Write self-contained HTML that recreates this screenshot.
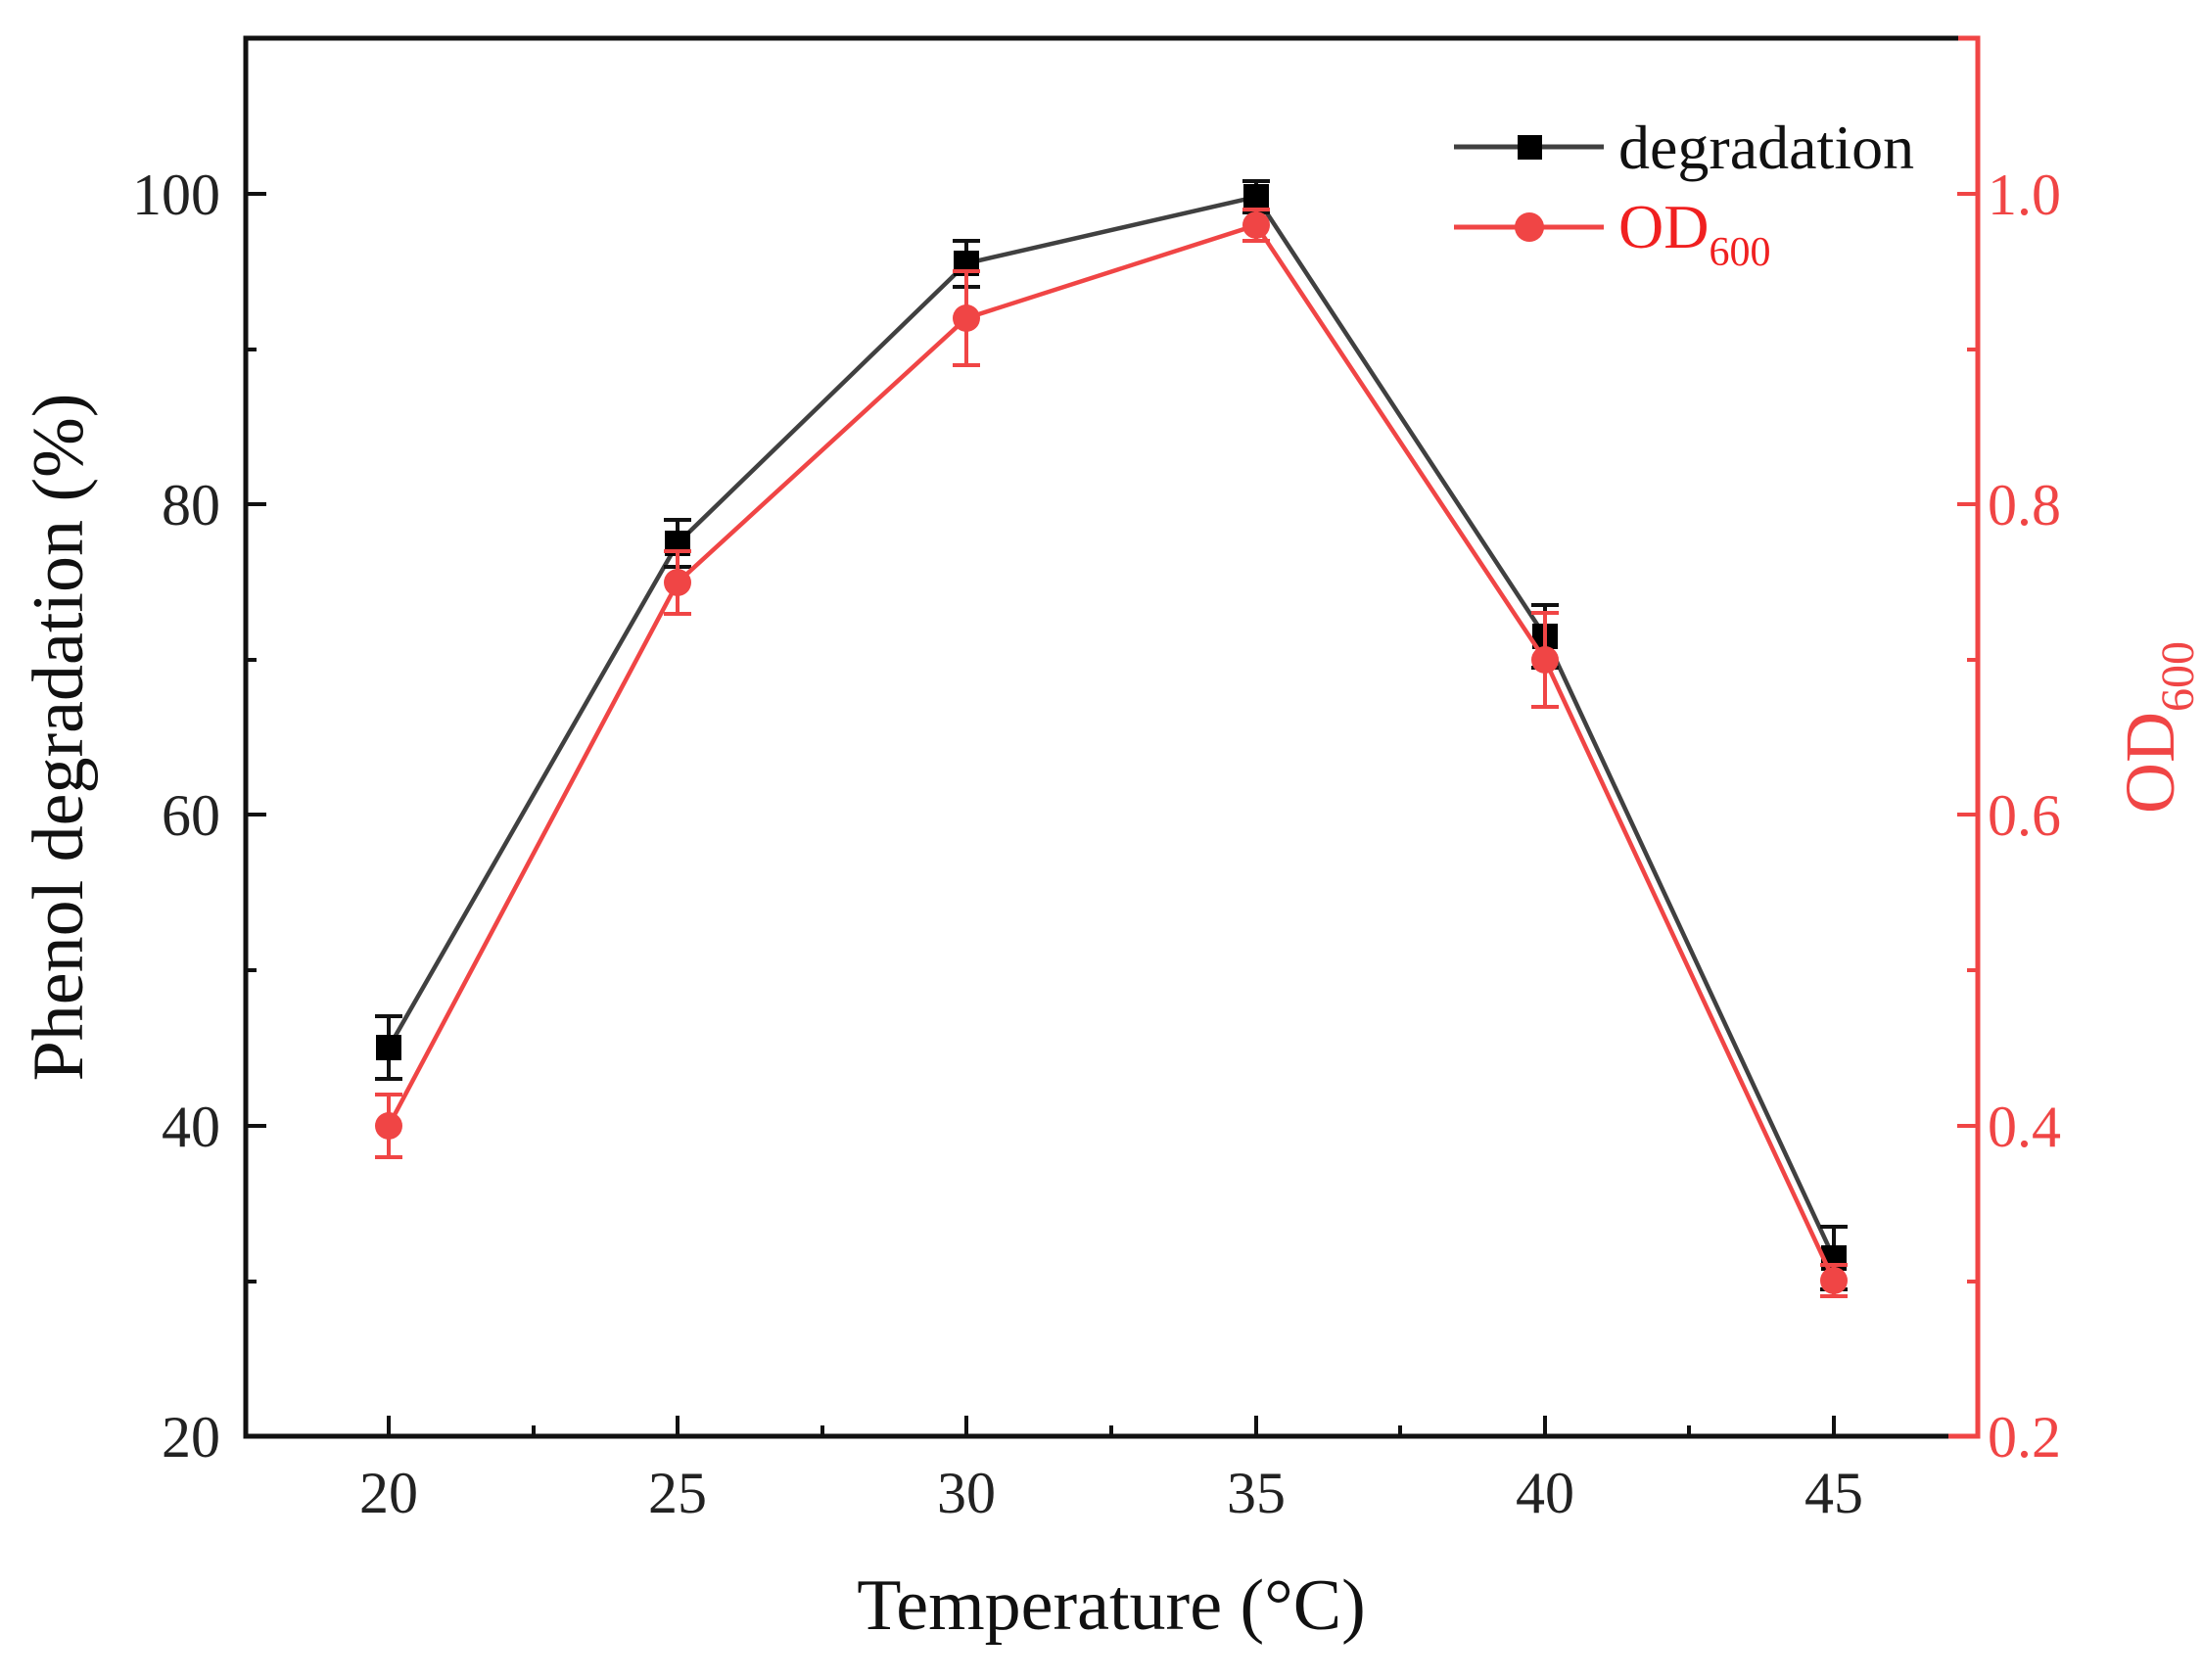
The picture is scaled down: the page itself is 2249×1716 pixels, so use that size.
<!DOCTYPE html>
<html><head><meta charset="utf-8"><style>
html,body{margin:0;padding:0;background:#fff;}
svg{display:block;}
text{font-family:"Liberation Serif",serif;}
</style></head><body>
<svg width="2249" height="1716" viewBox="0 0 2249 1716" xmlns="http://www.w3.org/2000/svg">
<rect width="2249" height="1716" fill="#fff"/>
<g stroke="#111" stroke-width="4">
<line x1="251" y1="1467" x2="272" y2="1467"/>
<line x1="251" y1="1150" x2="272" y2="1150"/>
<line x1="251" y1="832" x2="272" y2="832"/>
<line x1="251" y1="515" x2="272" y2="515"/>
<line x1="251" y1="198" x2="272" y2="198"/>
<line x1="251" y1="1309" x2="262" y2="1309"/>
<line x1="251" y1="991" x2="262" y2="991"/>
<line x1="251" y1="674" x2="262" y2="674"/>
<line x1="251" y1="357" x2="262" y2="357"/>
<line x1="397" y1="1467" x2="397" y2="1446"/>
<line x1="692" y1="1467" x2="692" y2="1446"/>
<line x1="987" y1="1467" x2="987" y2="1446"/>
<line x1="1283" y1="1467" x2="1283" y2="1446"/>
<line x1="1578" y1="1467" x2="1578" y2="1446"/>
<line x1="1873" y1="1467" x2="1873" y2="1446"/>
<line x1="545" y1="1467" x2="545" y2="1456"/>
<line x1="840" y1="1467" x2="840" y2="1456"/>
<line x1="1135" y1="1467" x2="1135" y2="1456"/>
<line x1="1430" y1="1467" x2="1430" y2="1456"/>
<line x1="1725" y1="1467" x2="1725" y2="1456"/>
</g>
<g stroke="#f04545" stroke-width="4">
<line x1="2020" y1="1467" x2="1999" y2="1467"/>
<line x1="2020" y1="1150" x2="1999" y2="1150"/>
<line x1="2020" y1="832" x2="1999" y2="832"/>
<line x1="2020" y1="515" x2="1999" y2="515"/>
<line x1="2020" y1="198" x2="1999" y2="198"/>
<line x1="2020" y1="1309" x2="2009" y2="1309"/>
<line x1="2020" y1="991" x2="2009" y2="991"/>
<line x1="2020" y1="674" x2="2009" y2="674"/>
<line x1="2020" y1="357" x2="2009" y2="357"/>
</g>
<path d="M2000 39 L251 39 L251 1467 L1990 1467" fill="none" stroke="#111" stroke-width="5"/>
<path d="M1990 1467 L2020 1467 L2020 39 L2000 39" fill="none" stroke="#f04545" stroke-width="5"/>
<polyline points="397,1070 692,555 987,269 1283,201 1578,650 1873,1285" fill="none" stroke="#404040" stroke-width="4.5"/>
<g stroke="#111" stroke-width="4">
<line x1="397" y1="1038" x2="397" y2="1102"/><line x1="383" y1="1038" x2="411" y2="1038"/><line x1="383" y1="1102" x2="411" y2="1102"/>
<line x1="692" y1="531" x2="692" y2="579"/><line x1="678" y1="531" x2="706" y2="531"/><line x1="678" y1="579" x2="706" y2="579"/>
<line x1="987" y1="246" x2="987" y2="293"/><line x1="973" y1="246" x2="1001" y2="246"/><line x1="973" y1="293" x2="1001" y2="293"/>
<line x1="1283" y1="185" x2="1283" y2="217"/><line x1="1269" y1="185" x2="1297" y2="185"/><line x1="1269" y1="217" x2="1297" y2="217"/>
<line x1="1578" y1="618" x2="1578" y2="682"/><line x1="1564" y1="618" x2="1592" y2="618"/><line x1="1564" y1="682" x2="1592" y2="682"/>
<line x1="1873" y1="1253" x2="1873" y2="1317"/><line x1="1859" y1="1253" x2="1887" y2="1253"/><line x1="1859" y1="1317" x2="1887" y2="1317"/>
</g>
<g fill="#000">
<rect x="384" y="1057" width="26" height="26"/>
<rect x="679" y="542" width="26" height="26"/>
<rect x="974" y="256" width="26" height="26"/>
<rect x="1270" y="188" width="26" height="26"/>
<rect x="1565" y="637" width="26" height="26"/>
<rect x="1860" y="1272" width="26" height="26"/>
</g>
<polyline points="397,1150 692,595 987,325 1283,230 1578,674 1873,1308" fill="none" stroke="#f04545" stroke-width="4.5"/>
<g stroke="#f04545" stroke-width="4">
<line x1="397" y1="1118" x2="397" y2="1182"/><line x1="383" y1="1118" x2="411" y2="1118"/><line x1="383" y1="1182" x2="411" y2="1182"/>
<line x1="692" y1="563" x2="692" y2="627"/><line x1="678" y1="563" x2="706" y2="563"/><line x1="678" y1="627" x2="706" y2="627"/>
<line x1="987" y1="277" x2="987" y2="373"/><line x1="973" y1="277" x2="1001" y2="277"/><line x1="973" y1="373" x2="1001" y2="373"/>
<line x1="1283" y1="214" x2="1283" y2="246"/><line x1="1269" y1="214" x2="1297" y2="214"/><line x1="1269" y1="246" x2="1297" y2="246"/>
<line x1="1578" y1="626" x2="1578" y2="722"/><line x1="1564" y1="626" x2="1592" y2="626"/><line x1="1564" y1="722" x2="1592" y2="722"/>
<line x1="1873" y1="1292" x2="1873" y2="1324"/><line x1="1859" y1="1292" x2="1887" y2="1292"/><line x1="1859" y1="1324" x2="1887" y2="1324"/>
</g>
<g fill="#f04545">
<circle cx="397" cy="1150" r="14"/>
<circle cx="692" cy="595" r="14"/>
<circle cx="987" cy="325" r="14"/>
<circle cx="1283" cy="230" r="14"/>
<circle cx="1578" cy="674" r="14"/>
<circle cx="1873" cy="1308" r="14"/>
</g>
<line x1="1485" y1="150" x2="1638" y2="150" stroke="#404040" stroke-width="5"/>
<rect x="1550" y="138" width="25" height="25" fill="#000"/>
<text x="1653" y="172" font-size="64" fill="#111">degradation</text>
<line x1="1485" y1="232" x2="1638" y2="232" stroke="#f04545" stroke-width="5"/>
<circle cx="1562" cy="232" r="15" fill="#f04545"/>
<text x="1653" y="253" font-size="64" fill="#f02020">OD<tspan font-size="42" dy="18">600</tspan></text>
<g font-size="60" fill="#222" text-anchor="end">
<text x="225" y="1488">20</text>
<text x="225" y="1171">40</text>
<text x="225" y="853">60</text>
<text x="225" y="536">80</text>
<text x="225" y="219">100</text>
</g>
<g font-size="60" fill="#f04545" text-anchor="start">
<text x="2030" y="1488">0.2</text>
<text x="2030" y="1171">0.4</text>
<text x="2030" y="853">0.6</text>
<text x="2030" y="536">0.8</text>
<text x="2030" y="219">1.0</text>
</g>
<g font-size="60" fill="#222" text-anchor="middle">
<text x="397" y="1545">20</text>
<text x="692" y="1545">25</text>
<text x="987" y="1545">30</text>
<text x="1283" y="1545">35</text>
<text x="1578" y="1545">40</text>
<text x="1873" y="1545">45</text>
</g>
<text x="1135" y="1664" font-size="74" fill="#111" text-anchor="middle">Temperature (°C)</text>
<text transform="translate(84,753) rotate(-90)" font-size="74" fill="#111" text-anchor="middle">Phenol degradation (%)</text>
<text transform="translate(2220,743) rotate(-90)" font-size="72" fill="#f04545" text-anchor="middle">OD<tspan font-size="48" dy="20">600</tspan></text>
</svg>
</body></html>
